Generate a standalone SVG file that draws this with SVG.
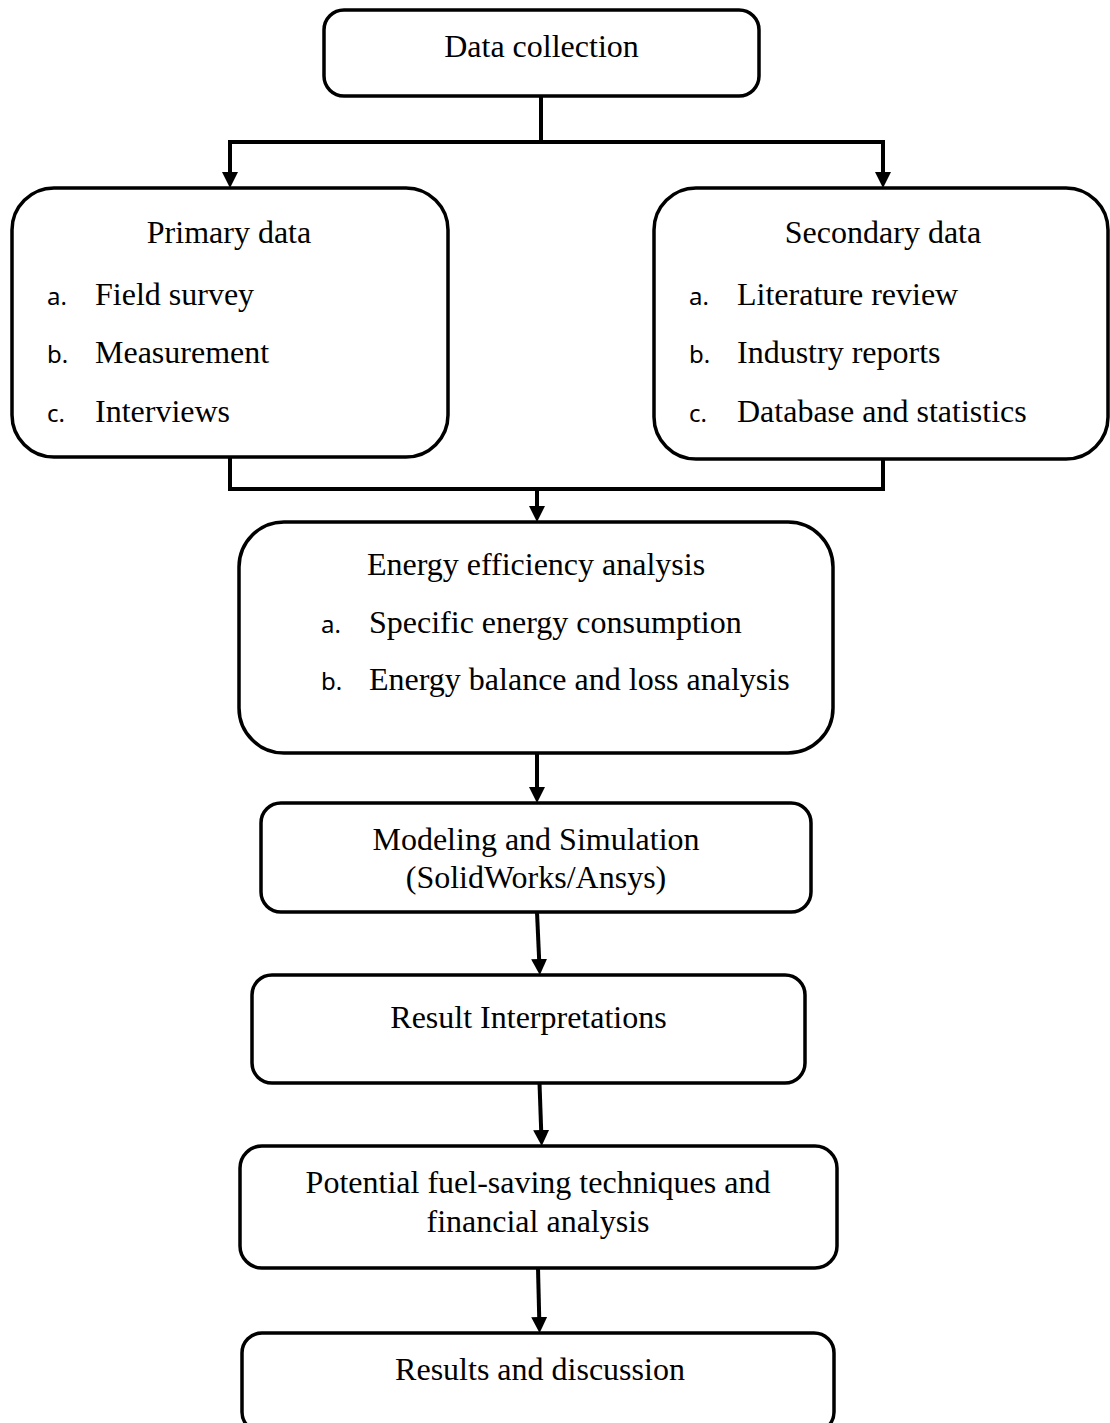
<svg xmlns="http://www.w3.org/2000/svg" width="1110" height="1423" viewBox="0 0 1110 1423">
<defs>
<style>
.box{fill:#fff;stroke:#000;stroke-width:3.5}
.t{font-family:"Liberation Serif","Times New Roman",serif;font-size:32px;fill:#000}
.c{text-anchor:middle}
.l{font-family:"Noto Sans","Open Sans",sans-serif;font-size:24px;fill:#000}
.ln{fill:none;stroke:#000;stroke-width:4}
</style>
<marker id="ah" markerUnits="userSpaceOnUse" markerWidth="18" markerHeight="18" refX="4" refY="8" orient="auto">
<path d="M0,0 L16,8 L0,16 Z" fill="#000"/>
</marker>
</defs>
<rect width="1110" height="1423" fill="#fff"/>
<g id="connectors">
<path class="ln" d="M541,96 V142"/>
<path class="ln" d="M543,142 H230 V176" marker-end="url(#ah)"/>
<path class="ln" d="M539,142 H883 V176" marker-end="url(#ah)"/>
<path class="ln" d="M230,457 V489 H883 V459"/>
<path class="ln" d="M537,489 V510" marker-end="url(#ah)"/>
<path class="ln" d="M537,753 V791" marker-end="url(#ah)"/>
<path class="ln" d="M537,912 L539.3,963" marker-end="url(#ah)"/>
<path class="ln" d="M539.5,1083 L541.3,1134" marker-end="url(#ah)"/>
<path class="ln" d="M538,1268 L539.3,1321" marker-end="url(#ah)"/>
</g>
<g id="data-collection">
<rect class="box" x="324" y="10" width="435" height="86" rx="20"/>
<text class="t c" x="541.5" y="57">Data collection</text>
</g>
<g id="primary-data">
<rect class="box" x="12" y="188" width="436" height="269" rx="42"/>
<text class="t c" x="229" y="243">Primary data</text>
<text class="l" x="47" y="305">a.</text><text class="t" x="95" y="305">Field survey</text>
<text class="l" x="47" y="363">b.</text><text class="t" x="95" y="363">Measurement</text>
<text class="l" x="47" y="422">c.</text><text class="t" x="95" y="422">Interviews</text>
</g>
<g id="secondary-data">
<rect class="box" x="654" y="188" width="454" height="271" rx="42"/>
<text class="t c" x="883" y="243">Secondary data</text>
<text class="l" x="689" y="305">a.</text><text class="t" x="737" y="305">Literature review</text>
<text class="l" x="689" y="363">b.</text><text class="t" x="737" y="363">Industry reports</text>
<text class="l" x="689" y="422">c.</text><text class="t" x="737" y="422">Database and statistics</text>
</g>
<g id="energy-analysis">
<rect class="box" x="239" y="522" width="594" height="231" rx="45"/>
<text class="t c" x="536" y="575">Energy efficiency analysis</text>
<text class="l" x="321" y="633">a.</text><text class="t" x="369" y="633">Specific energy consumption</text>
<text class="l" x="321" y="690">b.</text><text class="t" x="369" y="690">Energy balance and loss analysis</text>
</g>
<g id="modeling">
<rect class="box" x="261" y="803" width="550" height="109" rx="20"/>
<text class="t c" x="536" y="850">Modeling and Simulation</text>
<text class="t c" x="536" y="888">(SolidWorks/Ansys)</text>
</g>
<g id="result-interpretations">
<rect class="box" x="252" y="975" width="553" height="108" rx="20"/>
<text class="t c" x="528.5" y="1028">Result Interpretations</text>
</g>
<g id="fuel-saving">
<rect class="box" x="240" y="1146" width="597" height="122" rx="22"/>
<text class="t c" x="538" y="1193">Potential fuel-saving techniques and</text>
<text class="t c" x="538" y="1232">financial analysis</text>
</g>
<g id="results-discussion">
<rect class="box" x="242" y="1333" width="592" height="99" rx="20"/>
<text class="t c" x="540" y="1380">Results and discussion</text>
</g>
</svg>
